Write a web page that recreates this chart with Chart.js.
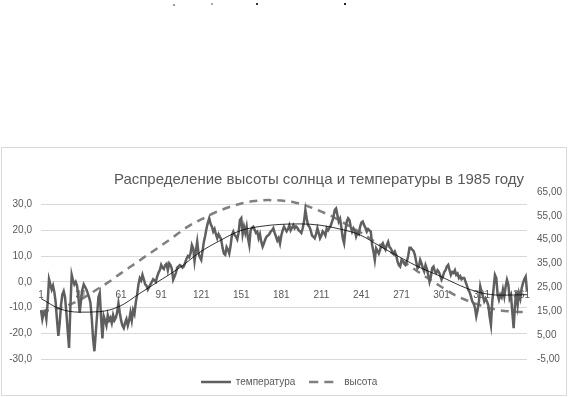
<!DOCTYPE html>
<html>
<head>
<meta charset="utf-8">
<script src="https://cdn.jsdelivr.net/npm/chart.js@4/dist/chart.umd.min.js"></script>
<style>
  html, body { margin:0; padding:0; background:#fff; }
  body { width:570px; height:397px; position:relative; overflow:hidden; }
  .frame { position:absolute; left:1px; top:147px; width:566px; height:249px; border:1px solid #d9d9d9; box-sizing:border-box; }
  .dot { position:absolute; width:2px; height:2px; }
  #chart { position:absolute; left:0; top:0; }
</style>
</head>
<body>
<span class="dot" style="left:173px;top:4px;background:#999"></span>
<span class="dot" style="left:211px;top:3px;background:#aaa"></span>
<span class="dot" style="left:256px;top:3px;background:#333"></span>
<span class="dot" style="left:344px;top:3px;background:#222"></span>
<div class="frame"></div>
<canvas id="chart" width="570" height="397"></canvas>
<script>
const chartTitle = "Распределение высоты солнца и температуры в 1985 году";
const seriesNames = ["температура", "высота"];

// day numbers 1..365 (category axis)
const days = Array.from({length: 365}, (_, i) => String(i + 1));

// daily temperature
const temperature = [
  -11, -14.5, -12, -11.5, -14.5, -8, 1, -1, -3, -1.5,
  -4, -8, -15, -21, -16, -9, -5, -3.7, -6, -12,
  -19, -25.7, -10, 2.7, 0.5, -1, 0, -1.5, -6, -12,
  -7, -3, -1, -2, -3, -4.4, -6, -8, -14, -22,
  -27, -20, -13, -6, -4.4, -14, -22, -13.4, -15, -17,
  -13, -15, -14, -16, -13, -15, -14, -12, -8.3, -12,
  -15, -17, -18, -16, -14.5, -17, -15, -12, -15, -11,
  -12.5, -8, -5, -1, 1.4, 0.5, 2.7, 1, -1, -1.5,
  -3, -2, -1, 0, 1, 0.5, 0, 2, 3.5, 4.6,
  6.6, 5.5, 5, 6.5, 7, 4.5, 7.2, 6.5, 5, 0.8,
  2, 3.5, 5.5, 6, 6.5, 6.2, 5.5, 6, 7.5, 9,
  10, 9.5, 11, 14.3, 13, 8, 12, 15.6, 11, 9.5,
  8.5, 12, 15.6, 18, 20.8, 23, 24.7, 22.5, 21.4, 19.5,
  20.5, 18.5, 16.9, 18.5, 17.5, 16.3, 13.1, 11, 10.5, 13.5,
  12.5, 11, 14, 18.2, 19.5, 18.2, 17.6, 16.5, 19, 24,
  24.7, 18.5, 21.4, 19, 21.5, 17, 14.3, 20, 21, 21.4,
  20.2, 19, 19.5, 16.9, 18.5, 15.5, 13.7, 15, 16.5, 17.6,
  18, 18.5, 19.5, 20, 20.8, 19, 17.6, 16, 17, 14.9,
  18, 20, 21.4, 20.5, 19.6, 20.5, 22, 20, 21, 22,
  20.8, 21.5, 21, 20, 19.6, 19, 20.8, 23.4, 27.9, 24.7,
  22, 21.4, 20, 18, 17.5, 16.9, 18.5, 20.8, 19, 16.9,
  18, 19.6, 19, 18, 20.8, 20, 21, 21.8, 23.4, 25,
  27.9, 28.5, 26, 23.4, 24.5, 21, 16.9, 15, 20, 23.4,
  24.7, 24, 21.4, 19.5, 20.8, 20, 17.6, 19, 18.5, 21.4,
  23, 23.4, 22, 21, 19.5, 20.5, 20, 19.5, 14.3, 11.8,
  8.5, 13, 12, 11, 12.5, 14.3, 15, 13.5, 12.5, 14.3,
  15.5, 13.5, 13, 11.8, 11, 11.8, 10.5, 7.9, 6.5, 5.9,
  8.5, 7.9, 7, 6.5, 7.9, 10, 13.2, 13.2, 12.5, 12,
  10.5, 7.9, 5.3, 5.9, 8.5, 7.2, 5.3, 4, 6.5, 5,
  2.7, 0, 2, 5.3, 5.9, 4, 3.4, 4.5, 3.8, 2.5,
  0.8, 2, 3.8, 4.5, 6, 6.6, 4.5, 2.7, 3.8, 3.4,
  4.5, 2.7, 3.2, 1.5, 2.2, 1, 1.5, 1.5, 0, -1.5,
  -3.1, -4, -5.7, -7.6, -8.5, -10, -13.4, -11, -7.6, -1.8,
  -4, -5.7, -7.6, -6.5, -7.6, -9, -13.4, -16.7, -7.6, -2.5,
  2.7, 1.5, -5, -7, -5, -6, -3, -5.7, -1.8, 0.8,
  -1, -6.5, -5.2, -11.8, -18, -9, -3.7, -9, -4.5, -6.5,
  -2.5, -0.5, 1, 2, -3.7
];

// sun height (right axis), read at sampled days
const sunDays = [1, 11, 21, 31, 41, 51, 61, 71, 81, 91, 101, 111, 121, 131, 141, 151, 161, 171, 181,
  191, 201, 211, 221, 231, 241, 251, 261, 271, 281, 291, 301, 311, 321, 331, 341, 351, 361, 365];
const sunValues = [15, 15.8, 17.5, 20, 23.5, 27, 31, 34.8, 38.7, 42.5, 46.5, 50.5, 53.5, 56.3, 58.5, 60.2, 61.2, 61.6, 61.4,
  60.6, 59, 56.8, 54.2, 51, 47.8, 44.2, 40.5, 36.5, 32.5, 28.8, 25.2, 21.8, 19.3, 17.3, 15.8, 15, 14.7, 14.7];

// thin black trend line, read at sampled days
const trendDays = [1, 15, 30, 45, 60, 75, 90, 105, 120, 135, 150, 165, 180, 195, 210, 225, 240, 255, 270, 285, 300, 315, 330, 345, 365];
const trendValues = [-6.5, -10.5, -11.8, -11.6, -9.5, -4.5, 0.5, 5.5, 11.5, 16, 19.8, 21.5, 22.3, 22.5, 22, 20.5, 18.2, 13.8, 9.5, 5.5, 2.2, -1.5, -4.2, -5.2, -5];

const leftTicks = [-30, -20, -10, 0, 10, 20, 30];
const rightTicks = [-5, 5, 15, 25, 35, 45, 55, 65];

function sparse(dayList, values) {
  const arr = new Array(days.length).fill(null);
  dayList.forEach((d, i) => { arr[d - 1] = values[i]; });
  return arr;
}

const FONT = '"Liberation Sans", Arial, sans-serif';
const GREY = '#595959';
const TEMP_COLOR = '#5f5f5f';
const SUN_COLOR = '#808080';

// little canvases used as legend samples (solid / dashed)
function sampleLine(color, width, dash) {
  const c = document.createElement('canvas');
  c.width = 30; c.height = 6;
  const g = c.getContext('2d');
  g.strokeStyle = color;
  g.lineWidth = width;
  g.setLineDash(dash);
  g.beginPath();
  g.moveTo(0, 3);
  g.lineTo(30, 3);
  g.stroke();
  return c;
}
const legendSamples = [sampleLine(TEMP_COLOR, 2.5, []), sampleLine(SUN_COLOR, 2.5, [9, 6])];

const titlePlugin = {
  id: 'fixedTitle',
  afterLayout(chart) {
    // nudge the legend a little lower and to the right, like the original
    chart.legend.top += 4;
    chart.legend.bottom += 4;
    chart.legend.left += 4;
    chart.legend.right += 4;
  },
  afterDraw(chart) {
    const ctx = chart.ctx;
    ctx.save();
    ctx.font = '15px ' + FONT;
    ctx.fillStyle = GREY;
    ctx.textAlign = 'center';
    ctx.textBaseline = 'middle';
    ctx.fillText(chartTitle, 319, 180);
    ctx.restore();
  }
};

new Chart(document.getElementById('chart'), {
  type: 'line',
  data: {
    labels: days,
    datasets: [
      {
        label: seriesNames[0],
        data: temperature,
        yAxisID: 'y',
        borderColor: TEMP_COLOR,
        borderWidth: 2.5,
        pointRadius: 0,
        tension: 0,
        order: 1
      },
      {
        label: seriesNames[1],
        data: sparse(sunDays, sunValues),
        yAxisID: 'y1',
        borderColor: SUN_COLOR,
        borderWidth: 2.5,
        borderDash: [8, 6],
        pointRadius: 0,
        spanGaps: true,
        cubicInterpolationMode: 'monotone',
        order: 2
      },
      {
        label: 'trend',
        data: sparse(trendDays, trendValues),
        yAxisID: 'y',
        borderColor: '#000',
        borderWidth: 0.8,
        pointRadius: 0,
        spanGaps: true,
        cubicInterpolationMode: 'monotone',
        order: 0
      }
    ]
  },
  options: {
    responsive: false,
    animation: false,
    layout: { padding: { top: 192, left: 0, right: 0, bottom: 4 } },
    plugins: {
      title: { display: false },
      tooltip: { enabled: false },
      legend: {
        position: 'bottom',
        labels: {
          generateLabels: (chart) => {
            const items = Chart.defaults.plugins.legend.labels.generateLabels(chart);
            items.forEach(it => { it.pointStyle = legendSamples[it.datasetIndex]; });
            return items;
          },
          filter: (item) => item.text !== 'trend',
          usePointStyle: true,
          pointStyleWidth: 30,
          padding: 14,
          color: GREY,
          font: { family: FONT, size: 10 }
        }
      }
    },
    scales: {
      x: {
        position: { y: 0 },
        grid: { display: false, drawTicks: false },
        border: { display: true, color: '#d9d9d9' },
        ticks: {
          autoSkip: false,
          maxRotation: 0,
          padding: 7,
          color: GREY,
          font: { family: FONT, size: 10 }
        },
        afterBuildTicks: (scale) => {
          scale.ticks = scale.ticks.filter(t => t.value % 30 === 0);
        }
      },
      y: {
        position: 'left',
        min: -30,
        max: 34.9,
        grid: { color: '#d9d9d9', drawTicks: false },
        border: { display: false },
        ticks: {
          padding: 9,
          color: GREY,
          font: { family: FONT, size: 10 },
          callback: (v) => v.toFixed(1).replace('.', ',')
        },
        afterBuildTicks: (scale) => {
          scale.ticks = leftTicks.map(v => ({ value: v }));
        },
        afterFit: (scale) => { scale.width = 41; }
      },
      y1: {
        position: 'right',
        min: -5,
        max: 65,
        grid: { display: false, drawTicks: false },
        border: { display: false },
        ticks: {
          padding: 10,
          color: GREY,
          font: { family: FONT, size: 10 },
          callback: (v) => v.toFixed(2).replace('.', ',')
        },
        afterBuildTicks: (scale) => {
          scale.ticks = rightTicks.map(v => ({ value: v }));
        },
        afterFit: (scale) => { scale.width = 43; }
      }
    }
  },
  plugins: [titlePlugin]
});
</script>
</body>
</html>
